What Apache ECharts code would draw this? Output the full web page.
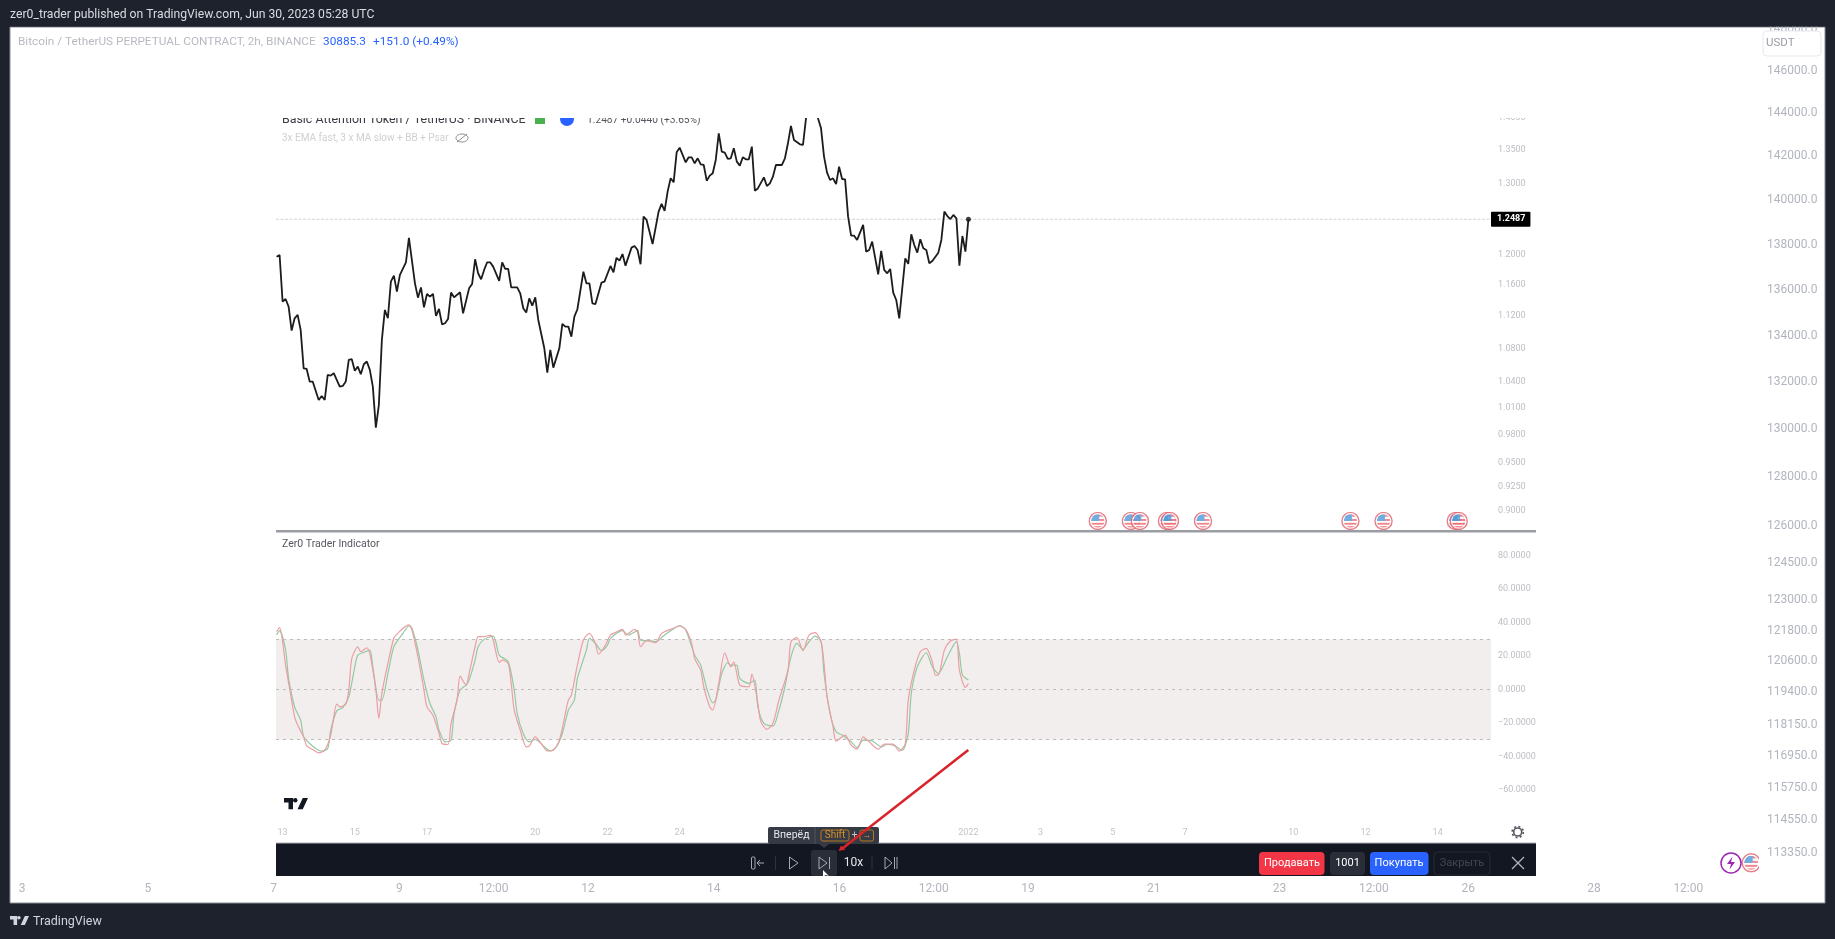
<!DOCTYPE html>
<html><head><meta charset="utf-8">
<style>html,body{margin:0;padding:0;background:#1e222d;overflow:hidden}#c{width:1835px;height:939px}</style>
<script src="https://cdn.jsdelivr.net/npm/echarts@6/dist/echarts.min.js"></script>
</head><body><div id="c"></div>
<script>
// ---- outer BTC chart axes (no visible series in the shot) ----
const outerDayTicks = [3,5,7,9,10.5,12,14,16,17.5,19,21,23,24.5,26,28,29.5];
const outerDayLabels = ['3','5','7','9','12:00','12','14','16','12:00','19','21','23','12:00','26','28','12:00'];
const outerPriceTicks = [148000,146000,144000,142000,140000,138000,136000,134000,132000,130000,128000,126000,124500,123000,121800,120600,119400,118150,116950,115750,114550,113350];
const outerFlagDay = [30.5];
const outerFlagPrice = [112976];
// ---- inner screenshot: BAT/USDT price (2h bars counted from 13 Dec) ----
const innerTickBars = [0,24,48,84,108,132,228,252,276,300,336,360,384];
const innerTickLabels = ['13','15','17','20','22','24','2022','3','5','7','10','12','14'];
const innerPriceTicks = [1.4,1.35,1.3,1.2,1.16,1.12,1.08,1.04,1.01,0.98,0.95,0.925,0.9];
const lastPrice = 1.2487;
const mainBars = [-2,-1,0,1,2,3,4,5,6,7,8,9,10,12,13,14,15,16,17,19,20,21,22,23,24,25,26,27,28,29,30,31,32,33,34,35,36,37,38,39,41,42,44,45,46,47,48,49,50,51,52,53,54,55,56,57,59,60,62,63,64,65,66,67,68,69,70,72,73,74,75,76,78,79,80,81,82,83,84,85,87,88,89,90,92,93,94,95,96,97,98,100,101,102,103,104,106,107,109,110,111,112,113,114,116,117,118,119,120,121,123,125,126,127,128,129,130,131,132,134,135,136,137,138,139,140,141,142,143,144,145,146,147,148,149,150,151,152,153,154,155,156,157,158,160,161,162,163,164,166,167,168,169,170,172,173,174,175,176,177,178,179,180,181,182,183,184,185,186,187,188,189,190,191,193,194,195,196,198,199,200,201,202,203,204,205,207,208,209,210,211,212,213,214,215,216,218,219,220,221,222,223,224,225,226,227,228];
const mainPrices = [1.1972,1.1995,1.1384,1.1418,1.1321,1.1019,1.1173,1.1216,1.1028,1.0563,1.0555,1.0407,1.0407,1.0194,1.0240,1.0194,1.0485,1.0477,1.0505,1.0348,1.0356,1.0407,1.0663,1.0671,1.0535,1.0583,1.0493,1.0611,1.0644,1.0544,1.0348,0.9883,1.0136,1.0905,1.1278,1.1173,1.1642,1.1721,1.1512,1.1730,1.1898,1.2227,1.1620,1.1435,1.1567,1.1312,1.1482,1.1448,1.1482,1.1202,1.1291,1.1098,1.1111,1.1164,1.1500,1.1439,1.1504,1.1236,1.1555,1.1611,1.1938,1.1752,1.1673,1.1796,1.1898,1.1898,1.1840,1.1651,1.1898,1.1809,1.1809,1.1567,1.1567,1.1491,1.1300,1.1245,1.1426,1.1332,1.1439,1.1152,1.0803,1.0513,1.0783,1.0571,1.0803,1.1102,1.1069,1.1069,1.0945,1.1194,1.1287,1.1774,1.1620,1.1620,1.1362,1.1353,1.1629,1.1642,1.1849,1.1765,1.1958,1.1920,1.2008,1.1853,1.2095,1.2118,1.2063,1.1871,1.2523,1.2477,1.2145,1.2594,1.2703,1.2604,1.2880,1.3074,1.3015,1.3461,1.3532,1.3311,1.3386,1.3386,1.3296,1.3371,1.3281,1.3271,1.3039,1.3113,1.3148,1.3346,1.3751,1.3471,1.3456,1.3361,1.3371,1.3522,1.3321,1.3261,1.3386,1.3356,1.3356,1.3547,1.2892,1.2926,1.3088,1.2962,1.3000,1.3098,1.3271,1.3271,1.3371,1.3598,1.3865,1.3649,1.3583,1.3572,1.3984,1.418,1.424,1.415,1.3984,1.3828,1.3396,1.3157,1.3049,1.3074,1.2990,1.3246,1.3064,1.3059,1.2523,1.2259,1.2259,1.2200,1.2407,1.2041,1.2063,1.2177,1.1739,1.2050,1.1796,1.1752,1.1809,1.1500,1.1405,1.1173,1.1951,1.1876,1.2277,1.2131,1.2027,1.2209,1.2086,1.2063,1.1885,1.1916,1.2027,1.2200,1.2594,1.2532,1.2490,1.2547,1.2500,1.1853,1.2254,1.2041,1.2487];
const flagBars = [271,282,285,294,295,306,355,366,390,391];
const flagPrice = 0.89;
// ---- inner screenshot: oscillator ----
const oscTicks = [80,60,40,20,0,-20,-40,-60];
const bandLevels = [30,0,-30];
const redBars = [-2,-1,0,1,3,4,5,7,8,10,12,14,16,18,19,21,22,23,25,26,28,29,31,32,33,35,37,38,40,42,43,45,47,48,50,52,53,55,56,58,59,61,62,64,65,67,69,70,72,73,75,76,77,79,81,82,84,86,88,90,92,94,95,96,98,100,102,104,105,107,109,110,113,114,115,117,118,119,121,124,126,129,132,134,136,137,139,140,142,143,145,147,149,150,152,155,156,158,159,161,163,165,168,169,171,173,175,177,179,180,181,183,184,187,189,191,193,195,198,200,203,205,207,208,210,212,214,216,217,218,220,222,224,225,227,228];
const redValues = [34.5,36.9,28.5,14.5,-6.4,-16.4,-21.3,-28.3,-33.7,-35.9,-37.9,-36.3,-27.3,-8.8,-10.4,-8.8,-0.4,18.5,25.5,22.5,24.9,21.5,-0.4,-17.4,-2.4,15.5,30.9,32.9,36.5,38.6,35.5,19.5,-0.4,-10.4,-15.4,-26.3,-32.3,-32.9,-20.3,-6.4,7.9,2.6,9.5,25.5,31.5,31.5,32.5,29.5,16.1,17.5,15.5,3.6,-12.4,-24.3,-34.3,-33.9,-28.3,-32.3,-36.7,-36.3,-30.3,-14.4,-6.4,-3.4,14.5,29.5,33.5,27.5,21.1,25.5,32.5,33.5,35.9,32.5,33.5,35.9,34.5,25.5,29.1,27.9,33.5,35.9,37.9,35.9,27.5,18.5,11.5,1.6,-10.4,-12.4,3.6,21.9,13.5,16.5,2.6,1.6,9.1,-8.4,-19.4,-23.9,-20.3,-6.4,11.5,28.5,30.9,23.1,32.5,33.9,28.5,15.5,-4.4,-22.3,-30.9,-27.3,-33.3,-35.7,-28.3,-31.3,-35.7,-32.7,-32.7,-36.9,-32.3,-6.4,11.5,22.5,24.5,16.5,8.6,8.6,23.5,28.9,30.1,11.5,1.2,3.6];
const greenBars = [-2,-1,1,2,4,6,7,9,11,13,15,16,18,20,22,24,25,27,29,30,32,33,35,37,40,42,43,45,47,49,51,52,54,56,57,59,61,62,64,65,67,70,71,72,75,77,78,80,82,84,87,89,91,93,95,97,98,101,102,104,106,108,109,113,115,118,119,122,124,127,129,132,134,137,139,141,143,144,146,148,149,151,152,155,157,158,160,163,165,167,169,171,173,175,177,179,180,182,184,186,189,191,193,196,199,201,203,206,208,209,211,214,216,218,221,224,225,226,228];
const greenValues = [32.5,35.1,23.5,6.6,-10.4,-18.4,-28.3,-32.3,-35.3,-36.9,-35.3,-24.3,-12.8,-10.8,-4.4,13.5,20.5,22.1,23.5,13.5,-6.4,-6.4,9.5,25.5,33.5,37.9,36.5,23.5,5.6,-8.4,-16.4,-24.3,-31.3,-30.3,-14.4,-0.4,2.6,5.6,17.5,25.5,29.9,31.9,27.5,20.5,16.5,-0.4,-14.4,-26.3,-31.3,-29.9,-34.3,-36.7,-34.3,-26.3,-12.4,-6.4,6.6,23.5,30.5,27.5,23.1,26.5,30.5,35.1,32.5,35.1,29.5,29.1,28.5,32.5,35.1,38.1,35.5,20.5,14.5,0.6,-8.0,-6.4,9.5,16.1,14.5,14.5,6.6,3.6,5.6,-10.4,-20.3,-21.9,-12.4,1.6,19.5,27.5,23.9,28.5,31.9,28.5,9.5,-14.4,-25.3,-27.3,-31.3,-34.7,-30.3,-30.7,-34.3,-32.9,-33.3,-36.3,-26.3,-2.4,13.5,21.9,13.5,9.5,19.5,28.5,21.5,8.6,5.6];

const lg = Math.log10;
const zip = (a,b,f)=>a.map((v,i)=>[v,f?f(b[i]):b[i]]);
const FONT='Roboto, "Liberation Sans", sans-serif';
const flagSvg='<svg xmlns="http://www.w3.org/2000/svg" width="40" height="40" viewBox="0 0 40 40"><defs><clipPath id="k"><circle cx="20" cy="20" r="14"/></clipPath></defs><circle cx="20" cy="20" r="18" fill="#fff" stroke="#e2606e" stroke-width="3"/><g clip-path="url(#k)"><rect width="40" height="40" fill="#fff"/><rect y="6" x="0" width="40" height="5" fill="#ee6a72"/><rect y="16" x="0" width="40" height="4" fill="#ee6a72"/><rect y="24" x="0" width="40" height="4" fill="#ee6a72"/><rect y="31" x="0" width="40" height="5" fill="#ee6a72"/><rect x="6" y="6" width="17" height="14" fill="#4a9bdc"/></g></svg>';
const flagSym='image://data:image/svg+xml;charset=utf-8,'+encodeURIComponent(flagSvg);

function t(text,x,y,font,fill,align,z){return {type:'text',z:z||70,silent:true,style:{text,x,y,font:font+' '+FONT,fill,textAlign:align||'left',textVerticalAlign:'middle'}};}
function r(x,y,w,h,fill,z,extra){return {type:'rect',z:z==null?70:z,silent:true,shape:{x,y,width:w,height:h,r:(extra&&extra.r)||0},style:Object.assign({fill},extra&&extra.style||{})};}
function ln(x1,y1,x2,y2,c,w,z){return {type:'line',z:z||72,silent:true,shape:{x1,y1,x2,y2},style:{stroke:c,lineWidth:w||1}};}
function poly(pts,style,z,closed){return {type:closed===false?'polyline':'polygon',z:z||72,silent:true,shape:{points:pts},style};}
function circ(cx,cy,rr,style,z){return {type:'circle',z:z||72,silent:true,shape:{cx,cy,r:rr},style};}
// TradingView mark: bar + stem, dot, slanted stroke, in a 32x15 box scaled to w
function logo(x,y,w,fill,z){
 const s=w/32, p=a=>a.map(q=>[x+q[0]*s,y+q[1]*s]);
 return [
  poly(p([[0,0],[12,0],[12,15],[6,15],[6,6],[0,6]]),{fill},z),
  poly(p([[25,0],[32,0],[25,15],[18,15]]),{fill},z),
  circ(x+15*s,y+3*s,3*s,{fill},z)
 ];
}

const TB='#131722', IC='#a6a9b2';
const graphics=[
 r(10,27,1815,876,'#ffffff',-10,{style:{stroke:'#8a8d96',lineWidth:1}}),
 // frame band above the panel hides the clipped top tick label
 r(0,0,1835,26.5,'#1e222d',60),
 t('zer0_trader published on TradingView.com, Jun 30, 2023 05:28 UTC',10,15,'12.2px','#d9dbe2'),
 t('Bitcoin / TetherUS PERPETUAL CONTRACT, 2h, BINANCE',18,42,'11.8px','#b8bac2'),
 t('30885.3',323,42,'11.8px','#2962ff'),
 t('+151.0 (+0.49%)',373,42,'11.8px','#2962ff'),
 // USDT box
 r(1763,31,58,25,'#ffffff',62,{r:4,style:{stroke:'#e8e8f0',lineWidth:1}}),
 t('USDT',1766,43,'11.5px','#9a9ca6','left',63),
 // inner legends, clipped by the cover rect
 t('Basic Attention Token / TetherUS · BINANCE',282,120,'12.4px','#3a3c44','left',40),
 r(535,115,10,9,'#4caf50',40),
 circ(567,119,7,{fill:'#2962ff'},40),
 t('1.2487 +0.0440 (+3.65%)',587,120,'10.2px','#55575f','left',40),
 r(276,95,1260,23,'#ffffff',50),
 t('3x EMA fast, 3 x MA slow + BB + Psar',282,138,'10px','#cfd0d4'),
 {type:'ellipse',z:72,silent:true,shape:{cx:462,cy:138,rx:6,ry:4},style:{fill:'none',stroke:'#8b8d94',lineWidth:1}},
 ln(457,142,467,134,'#8b8d94',1),
 t('Zer0 Trader Indicator',282,544,'10.5px','#55575f'),
 r(276,530,1260,2.5,'#9a9da3',30),
 ...logo(284,798,24,'#131722'),
 // gear
 circ(1517.7,832,4,{fill:'#fff',stroke:'#55575f',lineWidth:1.6}),
 circ(1517.7,832,5.6,{fill:'none',stroke:'#55575f',lineWidth:1.6,lineDash:[2,2.4]}),
 // toolbar
 r(276,843,1260,33,TB,65),
 r(276,842.5,1260,1,'#b0b2b8',66),
 r(751.5,857,3.5,12,TB,72,{r:1,style:{stroke:IC,lineWidth:1}}),
 poly([[764,863],[757,863]],{stroke:IC,fill:'none'},72,false),
 poly([[760,860],[757,863],[760,866]],{stroke:IC,fill:'none'},72,false),
 ln(775.5,856,775.5,870,'#2e323e',1),
 poly([[789.5,857],[798,863],[789.5,869]],{stroke:IC,fill:'none',lineWidth:1}),
 r(811,850,26,26,'#2a2e39',68,{r:3}),
 poly([[819,857],[827,863],[819,869]],{stroke:IC,fill:'none',lineWidth:1}),
 ln(829.5,857,829.5,869,IC,1),
 poly([[823,870],[823,877],[825.5,875],[829,876]],{fill:'#ffffff'},76),
 t('10x',853.5,863,'12px','#e6e7ea','center'),
 ln(872,856,872,870,'#2e323e',1),
 poly([[885,857],[892,863],[885,869]],{stroke:IC,fill:'none',lineWidth:1}),
 ln(894.5,857,894.5,869,IC,1),ln(897,857,897,869,IC,1),
 r(1259,852,65.5,23,'#f23645',72,{r:4}),
 t('Продавать',1292,863.5,'11px','#ffffff','center',73),
 r(1330,852,35,23,'#2a2e39',72,{r:4}),
 t('1001',1347.5,863.5,'11px','#ffffff','center',73),
 r(1370,852,58.5,23,'#2962ff',72,{r:4}),
 t('Покупать',1399,863.5,'11px','#ffffff','center',73),
 r(1434,852,56,23,TB,72,{r:4,style:{stroke:'#262a34',lineWidth:1}}),
 t('Закрыть',1462,863.5,'11px','#434651','center',73),
 ln(1512,857,1524,869,'#b2b5be',1.3),ln(1524,857,1512,869,'#b2b5be',1.3),
 // tooltip
 r(768,827,111,17,'#363a45',74,{r:2}),
 poly([[819,844],[824,848],[829,844]],{fill:'#363a45'},74),
 t('Вперёд',791.5,835.5,'10.5px','#e6e7ea','center',75),
 ln(815,827,815,844,'#50535e',1,75),
 r(821,830,28,11,'#363a45',75,{r:2,style:{stroke:'#b8791f',lineWidth:1}}),
 t('Shift',835,835.5,'10px','#d8912a','center',76),
 t('+',854.6,835.5,'10px','#c8c9ce','center',76),
 r(860,830,13.5,11,'#363a45',75,{r:2,style:{stroke:'#b8791f',lineWidth:1}}),
 t('→',866.7,835.5,'9px','#d8912a','center',76),
 // red arrow annotation
 ln(968.3,750,843,848,'#d9232a',2.5,78),
 poly([[838.5,851],[841,845.5],[845.5,849.5]],{fill:'#d9232a'},78),
 // outer chart purple icon + right clip of flag
 circ(1731,863,10,{fill:'#fff',stroke:'#9c27b0',lineWidth:1.5}),
 poly([[1732.5,856.5],[1727,864],[1731,864],[1729.5,869.5],[1735,862],[1731,862]],{fill:'#9c27b0'}),
 r(1759,850,6,26,'#ffffff',70),
 // footer
 ...logo(10,916,19,'#d1d4dc'),
 t('TradingView',33,921.5,'12.5px','#d1d4dc')
];

const noAxis={axisLine:{show:false},axisTick:{show:false},splitLine:{show:false}};
const INNER_MIN=-6.6/3.008, INNER_MAX=1208.4/3.008;
const option={
 backgroundColor:'#1e222d',animation:false,tooltip:{show:false},
 grid:[
  {left:10,top:27,width:1749,height:850},
  {left:276,top:100,width:1215,height:431},
  {left:276,top:531,width:1215,height:292}
 ],
 xAxis:[
  Object.assign({type:'value',gridIndex:0,min:3-12/62.88,max:3+1737/62.88},noAxis,{
   axisLabel:{customValues:outerDayTicks,margin:6,color:'#b2b5be',fontFamily:FONT,fontSize:12,
    formatter:v=>outerDayLabels[outerDayTicks.indexOf(v)]}}),
  Object.assign({type:'value',gridIndex:1,min:INNER_MIN,max:INNER_MAX},noAxis,{axisLabel:{show:false}}),
  Object.assign({type:'value',gridIndex:2,min:INNER_MIN,max:INNER_MAX},noAxis,{
   axisLabel:{customValues:innerTickBars,margin:5,color:'#c3c4c9',fontFamily:FONT,fontSize:9,
    formatter:v=>innerTickLabels[innerTickBars.indexOf(v)]}})
 ],
 yAxis:[
  Object.assign({type:'value',gridIndex:0,position:'right',min:5.05100,max:5.17049},noAxis,{
   axisLabel:{customValues:outerPriceTicks.map(lg),margin:8,color:'#b2b5be',fontFamily:FONT,fontSize:12,
    formatter:v=>Math.pow(10,v).toFixed(1)}}),
  Object.assign({type:'value',gridIndex:1,position:'right',min:lg(0.88),max:lg(1.4275)},noAxis,{
   axisLabel:{customValues:innerPriceTicks.map(lg),margin:7,color:'#bdbec4',fontFamily:FONT,fontSize:9,
    formatter:v=>Math.pow(10,v).toFixed(4)}}),
  Object.assign({type:'value',gridIndex:2,position:'right',min:-79.8,max:94.65},noAxis,{
   axisLabel:{customValues:oscTicks,margin:7,color:'#bdbec4',fontFamily:FONT,fontSize:9,
    formatter:v=>v.toFixed(4).replace('-','−')}})
 ],
 series:[
  {type:'scatter',xAxisIndex:0,yAxisIndex:0,symbol:flagSym,symbolSize:20,silent:true,z:3,
   data:zip(outerFlagDay,outerFlagPrice,lg)},
  {type:'line',name:'last price',xAxisIndex:1,yAxisIndex:1,showSymbol:false,symbol:'none',silent:true,z:3,
   lineStyle:{color:'#d2d2d2',type:[3,1.5],width:1},
   data:[[INNER_MIN,lg(lastPrice)],[INNER_MAX,lg(lastPrice)]],
   endLabel:{show:true,distance:0,formatter:()=>lastPrice.toFixed(4),backgroundColor:'#000',color:'#fff',fontFamily:FONT,fontSize:9,fontWeight:'bold',padding:[3,5,3,6],align:'left',verticalAlign:'middle',borderRadius:1}},
  {type:'line',name:'BAT/USDT',xAxisIndex:1,yAxisIndex:1,showSymbol:false,symbol:'none',clip:false,silent:true,z:4,
   lineStyle:{color:'#1c1c1c',width:1.8},data:zip(mainBars,mainPrices,lg)},
  {type:'scatter',xAxisIndex:1,yAxisIndex:1,symbolSize:5,silent:true,z:5,itemStyle:{color:'#111'},
   data:[[mainBars[mainBars.length-1],lg(lastPrice)]]},
  {type:'scatter',xAxisIndex:1,yAxisIndex:1,symbol:flagSym,symbolSize:19,silent:true,z:5,
   data:flagBars.map(b=>[b,lg(flagPrice)])},
  {type:'line',name:'green',xAxisIndex:2,yAxisIndex:2,showSymbol:false,symbol:'none',silent:true,z:4,smooth:0.25,
   lineStyle:{color:'#93c9a0',width:1.2},data:zip(greenBars,greenValues),
   markArea:{silent:true,itemStyle:{color:'#f2eeee',opacity:1},data:[[{yAxis:bandLevels[0]},{yAxis:bandLevels[2]}]]},
   markLine:{silent:true,symbol:'none',animation:false,label:{show:false},lineStyle:{color:'#bcbcbc',type:[3,4],width:1},data:bandLevels.map(v=>({yAxis:v}))}},
  {type:'line',name:'red',xAxisIndex:2,yAxisIndex:2,showSymbol:false,symbol:'none',silent:true,z:5,smooth:0.25,
   lineStyle:{color:'#eb9ea4',width:1.2},data:zip(redBars,redValues)}
 ],
 graphic:{elements:graphics}
};
const chart=echarts.init(document.getElementById('c'),null,{width:1835,height:939,renderer:'canvas'});
chart.setOption(option);
</script></body></html>
